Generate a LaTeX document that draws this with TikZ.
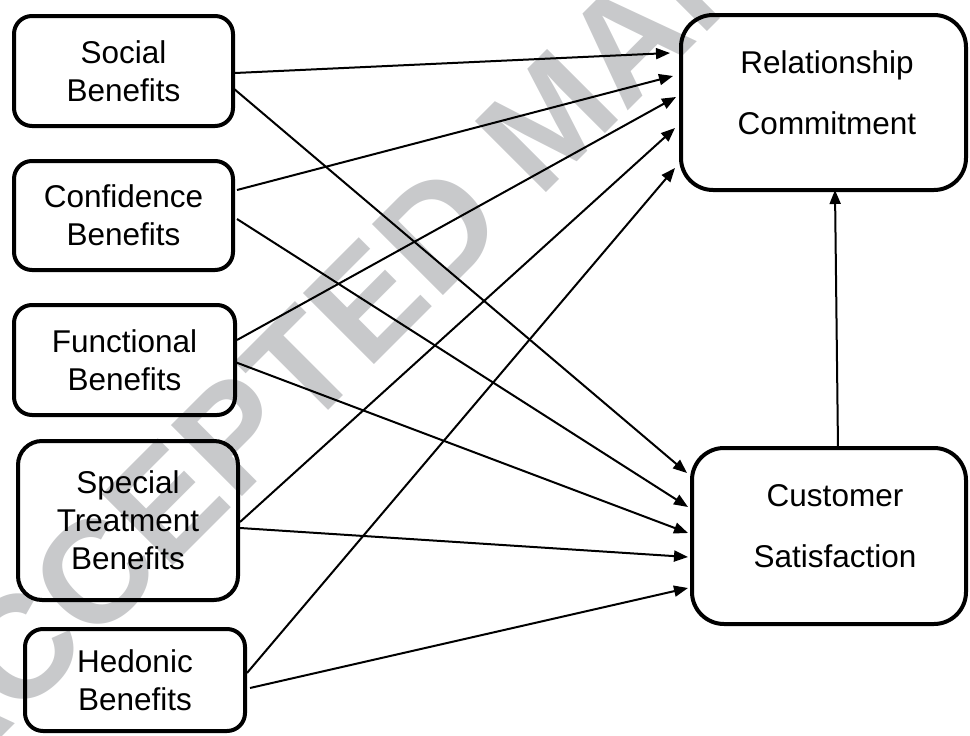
\documentclass[tikz,border=0pt]{standalone}
\usepackage{fontspec}
\setmainfont{Liberation Sans}
\usetikzlibrary{arrows.meta,calc}
\definecolor{wmgray}{HTML}{C8C9CB}
\begin{document}
\begin{tikzpicture}[x=1pt,y=-1pt,
  box/.style={draw, line width=4pt, rounded corners=18pt, outer sep=0pt, inner sep=0pt,
    align=center, font=\fontsize{31.5}{38}\selectfont},
  bigbox/.style={draw, line width=4pt, rounded corners=32pt, outer sep=0pt, inner sep=0pt},
  bigtext/.style={align=center, inner sep=0pt, font=\fontsize{31.5}{61.5}\selectfont},
  link/.style={line width=2pt, -{Triangle[length=14pt,width=11pt]}},
]
\useasboundingbox (0,0) rectangle (970,736);

% background stamp
\node[rotate=45, anchor=base west, inner sep=0pt, text=wmgray,
  font=\fontsize{146}{146}\selectfont\bfseries] (stamp) at (-57,796) {ACCEPTED MANUSCRIPT};

% antecedents
\node[box, minimum width=219pt, minimum height=110pt] (soc) at (123.5,71) {Social\\Benefits};
\node[box, minimum width=219pt, minimum height=109pt] (con) at (123.5,215.5) {Confidence\\Benefits};
\node[box, minimum width=221pt, minimum height=110pt] (fun) at (124.5,360) {Functional\\Benefits};
\node[box, rounded corners=24pt, minimum width=220pt, minimum height=159pt] (spe) at (128,520.5) {Special\\Treatment\\Benefits};
\node[box, minimum width=220pt, minimum height=102pt] (hed) at (135,680) {Hedonic\\Benefits};

% outcomes
\node[bigbox, minimum width=285pt, minimum height=175pt] (rc) at (823.5,102.5) {};
\node[bigtext] (rclabel) at (827,92.5) {Relationship\\Commitment};
\node[bigbox, minimum width=274pt, minimum height=176pt] (cs) at (829,536) {};
\node[bigtext] (cslabel) at (835,526) {Customer\\Satisfaction};

% paths to Relationship Commitment
\draw[link] ($(soc.east)+(2,2)$)    -- ($(rc.west)+(-11,-49.5)$);
\draw[link] ($(con.east)+(4,-25.5)$) -- ($(rc.west)+(-8,-26.5)$);
\draw[link] ($(fun.east)+(2,-20)$)  -- ($(rc.west)+(-5,-5.5)$);
\draw[link] ($(spe.east)+(2,1.5)$)  -- ($(rc.west)+(-6,25.5)$);
\draw[link] ($(hed.east)+(2,-7)$)   -- ($(rc.west)+(-6,65.5)$);

% paths to Customer Satisfaction
\draw[link] ($(soc.east)+(0,17)$)   -- ($(cs.west)+(-5,-63)$);
\draw[link] ($(con.east)+(4,3.5)$)  -- ($(cs.west)+(-4,-29)$);
\draw[link] ($(fun.east)+(0,2)$)    -- ($(cs.west)+(-4,-3)$);
\draw[link] ($(spe.east)+(2,7.5)$)  -- ($(cs.west)+(-4,21)$);
\draw[link] ($(hed.east)+(5,8)$)    -- ($(cs.west)+(-4,52)$);

% satisfaction drives commitment
\draw[link] ($(cs.north)+(9,0)$) -- ($(rc.south)+(11.5,0)$);
\end{tikzpicture}
\end{document}
